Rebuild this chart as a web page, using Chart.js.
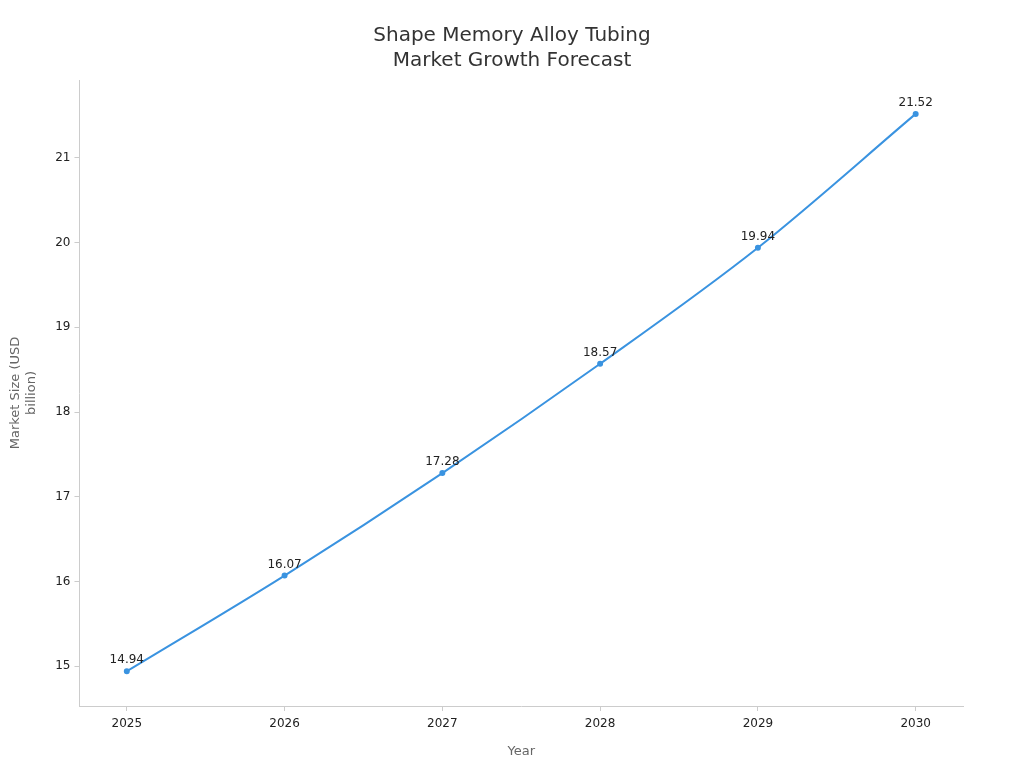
<!DOCTYPE html>
<html>
<head>
<script src="https://cdn.jsdelivr.net/npm/chart.js@4"></script>
<style>
  body { margin: 0; background: #fff; }
  #wrap { position: relative; width: 1024px; height: 768px; }
  #title { position: absolute; top: 22px; left: 0; width: 1024px; text-align: center;
           font: 20px "DejaVu Sans"; line-height: 25px; color: #333; }
</style>
</head>
<body>
<div id="wrap">
  <div id="title">Shape Memory Alloy Tubing<br>Market Growth Forecast</div>
  <canvas id="chart"></canvas>
</div>
<script>
const years = [2025, 2026, 2027, 2028, 2029, 2030]
const marketSize = [14.94, 16.07, 17.28, 18.57, 19.94, 21.52]
const yTicks = [15, 16, 17, 18, 19, 20, 21]

const valueLabels = {
    id: 'valueLabels',
    afterDatasetsDraw(chart) {
        const ctx = chart.ctx
        const meta = chart.getDatasetMeta(0)
        ctx.save()
        ctx.font = '12px "DejaVu Sans"'
        ctx.fillStyle = '#222'
        ctx.textAlign = 'center'
        ctx.textBaseline = 'bottom'
        meta.data.forEach((pt, i) => {
            ctx.fillText(marketSize[i].toFixed(2), pt.x, pt.y - 5)
        })
        ctx.restore()
    }
}

new Chart(document.getElementById('chart'), {
    type: 'line',
    data: {
        datasets: [{
            data: years.map((y, i) => ({ x: y, y: marketSize[i] })),
            borderColor: '#3a93e0',
            backgroundColor: '#3a93e0',
            borderWidth: 2,
            pointRadius: 2,
            cubicInterpolationMode: 'monotone'
        }]
    },
    options: {
        responsive: true,
        maintainAspectRatio: false,
        animation: false,
        layout: { padding: { left: 4, right: 61, top: 80, bottom: 5 } },
        plugins: {
            legend: { display: false },
            tooltip: { enabled: false }
        },
        scales: {
            x: {
                type: 'linear',
                min: 2024.7,
                max: 2030.3,
                afterBuildTicks: axis => { axis.ticks = years.map(v => ({ value: v })) },
                ticks: { color: '#222', font: { family: 'DejaVu Sans', size: 12 }, padding: 6, callback: v => String(v) },
                grid: { display: true, drawOnChartArea: false, drawTicks: true, tickLength: 5, color: '#ccc' },
                border: { color: '#ccc' },
                title: { display: true, text: 'Year', color: '#666', font: { family: 'DejaVu Sans', size: 13 }, padding: { top: 6 } }
            },
            y: {
                min: 14.53,
                max: 21.92,
                afterBuildTicks: axis => { axis.ticks = yTicks.map(v => ({ value: v })) },
                ticks: { color: '#222', font: { family: 'DejaVu Sans', size: 12 }, padding: 4 },
                grid: { display: true, drawOnChartArea: false, drawTicks: true, tickLength: 5, color: '#ccc' },
                border: { color: '#ccc' },
                title: { display: true, text: ['Market Size (USD', 'billion)'], color: '#666', font: { family: 'DejaVu Sans', size: 13 }, padding: { bottom: 12 } }
            }
        }
    },
    plugins: [valueLabels]
})
</script>
</body>
</html>
